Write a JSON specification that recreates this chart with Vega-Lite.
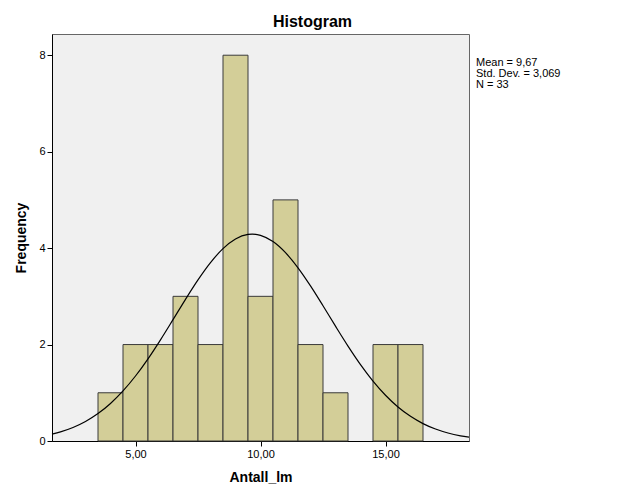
{
  "$schema": "https://vega.github.io/schema/vega-lite/v6.json",
  "width": 417,
  "height": 407,
  "autosize": "none",
  "padding": {"left": 52, "top": 34, "right": 157, "bottom": 60},
  "background": "white",
  "config": {
    "font": "Liberation Sans",
    "view": {"stroke": "#666666", "strokeWidth": 1, "fill": "#F0F0F0"}
  },
  "title": {
    "text": "Histogram",
    "font": "Liberation Sans",
    "fontSize": 16,
    "fontWeight": "bold",
    "color": "#000000",
    "anchor": "middle",
    "dx": 52,
    "offset": 4
  },
  "datasets": {
    "bars": [
      {"lo": 3.5, "hi": 4.5, "count": 1},
      {"lo": 4.5, "hi": 5.5, "count": 2},
      {"lo": 5.5, "hi": 6.5, "count": 2},
      {"lo": 6.5, "hi": 7.5, "count": 3},
      {"lo": 7.5, "hi": 8.5, "count": 2},
      {"lo": 8.5, "hi": 9.5, "count": 8},
      {"lo": 9.5, "hi": 10.5, "count": 3},
      {"lo": 10.5, "hi": 11.5, "count": 5},
      {"lo": 11.5, "hi": 12.5, "count": 2},
      {"lo": 12.5, "hi": 13.5, "count": 1},
      {"lo": 14.5, "hi": 15.5, "count": 2},
      {"lo": 15.5, "hi": 16.5, "count": 2}
    ],
    "curve": [
      {"x": 1.66, "y": 0.1423},
      {"x": 2.0, "y": 0.1888},
      {"x": 2.5, "y": 0.2800},
      {"x": 3.0, "y": 0.4044},
      {"x": 3.5, "y": 0.5686},
      {"x": 4.0, "y": 0.7784},
      {"x": 4.5, "y": 1.0380},
      {"x": 5.0, "y": 1.3478},
      {"x": 5.5, "y": 1.7043},
      {"x": 6.0, "y": 2.0985},
      {"x": 6.5, "y": 2.5163},
      {"x": 7.0, "y": 2.9383},
      {"x": 7.5, "y": 3.3409},
      {"x": 8.0, "y": 3.6994},
      {"x": 8.5, "y": 3.9891},
      {"x": 9.0, "y": 4.1887},
      {"x": 9.5, "y": 4.2832},
      {"x": 9.67, "y": 4.2897},
      {"x": 10.0, "y": 4.2650},
      {"x": 10.5, "y": 4.1357},
      {"x": 11.0, "y": 3.9052},
      {"x": 11.5, "y": 3.5910},
      {"x": 12.0, "y": 3.2158},
      {"x": 12.5, "y": 2.8040},
      {"x": 13.0, "y": 2.3811},
      {"x": 13.5, "y": 1.9689},
      {"x": 14.0, "y": 1.5855},
      {"x": 14.5, "y": 1.2434},
      {"x": 15.0, "y": 0.9495},
      {"x": 15.5, "y": 0.7061},
      {"x": 16.0, "y": 0.5113},
      {"x": 16.5, "y": 0.3606},
      {"x": 17.0, "y": 0.2476},
      {"x": 17.5, "y": 0.1656},
      {"x": 18.0, "y": 0.1078},
      {"x": 18.34, "y": 0.0793}
    ],
    "stats": [
      {"x": 18.62, "y": 7.77, "label": "Mean = 9,67"},
      {"x": 18.62, "y": 7.55, "label": "Std. Dev. = 3,069"},
      {"x": 18.62, "y": 7.33, "label": "N = 33"}
    ]
  },
  "layer": [
    {
      "data": {"name": "bars"},
      "mark": {"type": "rect", "fill": "#D3CE98", "stroke": "#3A3A3A", "strokeWidth": 1},
      "encoding": {
        "x": {
          "field": "lo",
          "type": "quantitative",
          "scale": {"domain": [1.66, 18.34], "nice": false, "zero": false},
          "axis": {
            "title": "Antall_lm",
            "titleFont": "Liberation Sans",
            "titleFontSize": 14,
            "titleFontWeight": "bold",
            "titleColor": "#000000",
            "titlePadding": 11,
            "values": [5, 10, 15],
            "labelExpr": "replace(format(datum.value, '.2f'), '.', ',')",
            "labelFont": "Liberation Sans",
            "labelFontSize": 11,
            "labelColor": "#000000",
            "labelPadding": 2,
            "tickSize": 5,
            "tickColor": "#000000",
            "domainColor": "#000000",
            "grid": false
          }
        },
        "x2": {"field": "hi"},
        "y": {
          "field": "count",
          "type": "quantitative",
          "scale": {"domain": [0, 8.44], "nice": false},
          "axis": {
            "title": "Frequency",
            "titleFont": "Liberation Sans",
            "titleFontSize": 14,
            "titleFontWeight": "bold",
            "titleColor": "#000000",
            "titlePadding": 10,
            "values": [0, 2, 4, 6, 8],
            "labelFont": "Liberation Sans",
            "labelFontSize": 11,
            "labelColor": "#000000",
            "labelPadding": 2,
            "tickSize": 5,
            "tickColor": "#000000",
            "domainColor": "#000000",
            "grid": false
          }
        },
        "y2": {"datum": 0}
      }
    },
    {
      "data": {"name": "curve"},
      "mark": {"type": "line", "color": "#000000", "strokeWidth": 1.2, "interpolate": "monotone"},
      "encoding": {
        "x": {"field": "x", "type": "quantitative"},
        "y": {"field": "y", "type": "quantitative"}
      }
    },
    {
      "data": {"name": "stats"},
      "mark": {"type": "text", "align": "left", "baseline": "alphabetic", "font": "Liberation Sans", "fontSize": 11, "color": "#000000"},
      "encoding": {
        "x": {"field": "x", "type": "quantitative"},
        "y": {"field": "y", "type": "quantitative"},
        "text": {"field": "label"}
      }
    }
  ]
}
